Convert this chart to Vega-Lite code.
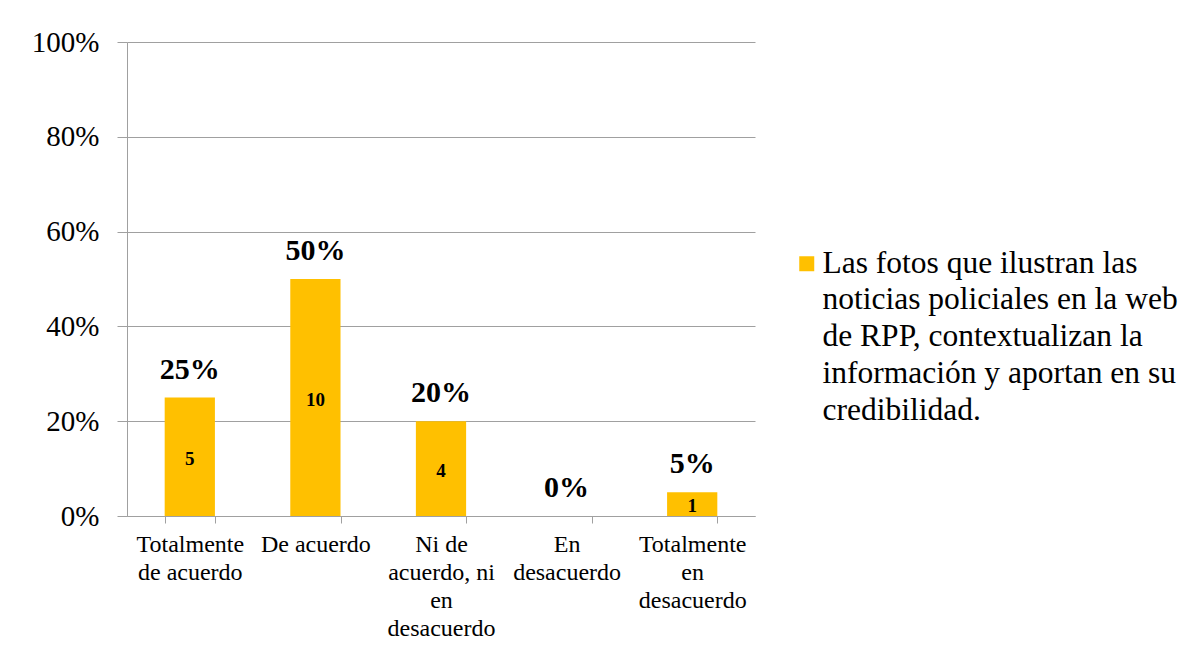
{
  "$schema": "https://vega.github.io/schema/vega-lite/v6.json",
  "width": 628,
  "height": 474,
  "autosize": {"type": "none"},
  "padding": {"left": 127, "top": 42, "right": 442, "bottom": 133},
  "background": "white",
  "config": {
    "font": "Liberation Serif",
    "view": {"stroke": null}
  },
  "data": {
    "values": [
      {"categoria": "Totalmente de acuerdo", "pct": 0.25, "n": 5, "serie": "Las fotos que ilustran las noticias policiales en la web de RPP, contextualizan la información y aportan en su credibilidad."},
      {"categoria": "De acuerdo", "pct": 0.5, "n": 10, "serie": "Las fotos que ilustran las noticias policiales en la web de RPP, contextualizan la información y aportan en su credibilidad."},
      {"categoria": "Ni de acuerdo, ni en desacuerdo", "pct": 0.2, "n": 4, "serie": "Las fotos que ilustran las noticias policiales en la web de RPP, contextualizan la información y aportan en su credibilidad."},
      {"categoria": "En desacuerdo", "pct": 0, "n": 0, "serie": "Las fotos que ilustran las noticias policiales en la web de RPP, contextualizan la información y aportan en su credibilidad."},
      {"categoria": "Totalmente en desacuerdo", "pct": 0.05, "n": 1, "serie": "Las fotos que ilustran las noticias policiales en la web de RPP, contextualizan la información y aportan en su credibilidad."}
    ]
  },
  "encoding": {
    "x": {
      "field": "categoria",
      "type": "nominal",
      "sort": null,
      "scale": {"paddingInner": 0.6, "paddingOuter": 0.3},
      "axis": {
        "title": null,
        "labelAngle": 0,
        "labelFont": "Liberation Serif",
        "labelFontSize": 24,
        "labelLineHeight": 28,
        "labelColor": "#000000",
        "labelPadding": 9,
        "labelBaseline": "top",
        "tickBand": "extent",
        "tickSize": 7,
        "tickColor": "#a0a0a0",
        "domainColor": "#a0a0a0",
        "labelLimit": 200,
        "labelExpr": "datum.value == 'Totalmente de acuerdo' ? ['Totalmente', 'de acuerdo'] : datum.value == 'Ni de acuerdo, ni en desacuerdo' ? ['Ni de', 'acuerdo, ni', 'en', 'desacuerdo'] : datum.value == 'En desacuerdo' ? ['En', 'desacuerdo'] : datum.value == 'Totalmente en desacuerdo' ? ['Totalmente', 'en', 'desacuerdo'] : datum.value"
      }
    }
  },
  "layer": [
    {
      "mark": {"type": "bar"},
      "encoding": {
        "y": {
          "field": "pct",
          "type": "quantitative",
          "scale": {"domain": [0, 1], "nice": false},
          "axis": {
            "title": null,
            "format": ".0%",
            "values": [0, 0.2, 0.4, 0.6, 0.8, 1],
            "labelFont": "Liberation Serif",
            "labelFontSize": 29,
            "labelColor": "#000000",
            "labelPadding": 18,
            "tickSize": 10,
            "tickColor": "#a0a0a0",
            "domainColor": "#a0a0a0",
            "grid": true,
            "gridColor": "#a0a0a0",
            "gridWidth": 1
          }
        },
        "color": {
          "field": "serie",
          "type": "nominal",
          "scale": {"range": ["#FFC000"]},
          "legend": {
            "title": null,
            "orient": "none",
            "legendX": 664,
            "legendY": 206,
            "padding": 0,
            "symbolType": "square",
            "symbolSize": 225,
            "symbolStrokeWidth": 0,
            "labelFont": "Liberation Serif",
            "labelFontSize": 31.5,
            "labelColor": "#000000",
            "labelOffset": 0,
            "labelLimit": 500,
            "labelExpr": "['Las fotos que ilustran las', 'noticias policiales en la web', 'de RPP, contextualizan la', 'información y aportan en su', 'credibilidad.']",
            "encode": {"labels": {"update": {"lineHeight": {"value": 36.7}}}}
          }
        }
      }
    },
    {
      "mark": {"type": "text", "fontWeight": "bold", "fontSize": 30, "baseline": "alphabetic", "dy": -19, "font": "Liberation Serif", "color": "#000000"},
      "encoding": {
        "y": {"field": "pct", "type": "quantitative", "scale": {"domain": [0, 1], "nice": false}, "axis": null},
        "text": {"field": "pct", "type": "quantitative", "format": ".0%"}
      }
    },
    {
      "transform": [{"filter": "datum.n > 0"}],
      "mark": {"type": "text", "fontWeight": "bold", "fontSize": 19, "baseline": "middle", "dy": 2, "font": "Liberation Serif", "color": "#000000"},
      "encoding": {
        "y": {"field": "pct", "type": "quantitative", "scale": {"domain": [0, 2], "nice": false}, "axis": null},
        "text": {"field": "n", "type": "quantitative"}
      }
    }
  ],
  "resolve": {"scale": {"y": "independent"}}
}
